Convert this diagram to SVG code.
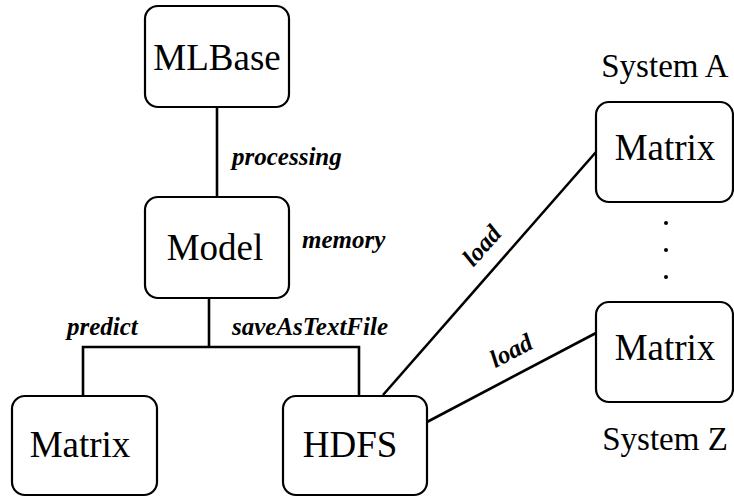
<svg xmlns="http://www.w3.org/2000/svg" width="734" height="497" viewBox="0 0 734 497">
<style>
.box{fill:#fff;stroke:#000;stroke-width:2.2}
.nt{font-family:"Liberation Serif","Times New Roman",serif;font-size:37px;text-anchor:middle;fill:#000}
.sys{font-family:"Liberation Serif","Times New Roman",serif;font-size:33px;text-anchor:middle;fill:#000}
.lbl{font-family:"Liberation Serif","Times New Roman",serif;font-size:25px;font-weight:bold;font-style:italic;fill:#000}
.ln{fill:none;stroke:#000;stroke-width:2.6}
</style>
<rect width="734" height="497" fill="#fff"/>
<g id="connectors">
<line class="ln" x1="217" y1="107" x2="217" y2="197"/>
<polyline class="ln" points="209,298 209,347"/>
<polyline class="ln" points="83,396 83,347 359,347 359,396"/>
<line class="ln" x1="383" y1="395" x2="596" y2="152"/>
<line class="ln" x1="427" y1="422" x2="596" y2="333"/>
<text class="lbl" x="232" y="165">processing</text>
<text class="lbl" x="302" y="248">memory</text>
<text class="lbl" x="67" y="335">predict</text>
<text class="lbl" x="232" y="335">saveAsTextFile</text>
<text class="lbl" text-anchor="middle" transform="translate(488,251) rotate(-48.6)">load</text>
<text class="lbl" text-anchor="middle" transform="translate(515,358) rotate(-27.8)">load</text>
</g>
<g id="mlbase"><rect class="box" x="145" y="6" width="144" height="101" rx="13"/><text class="nt" x="217" y="70">MLBase</text></g>
<g id="model"><rect class="box" x="145" y="197" width="144" height="101" rx="13"/><text class="nt" x="215" y="260">Model</text></g>
<g id="matrix-left"><rect class="box" x="12" y="396" width="145" height="99" rx="13"/><text class="nt" x="80" y="457">Matrix</text></g>
<g id="hdfs"><rect class="box" x="283" y="396" width="144" height="99" rx="13"/><text class="nt" x="350" y="457">HDFS</text></g>
<g id="matrix-a"><text class="sys" x="665" y="77">System A</text><rect class="box" x="596" y="102" width="137" height="100" rx="13"/><text class="nt" x="665" y="160">Matrix</text></g>
<g id="dots"><circle cx="666" cy="223" r="2"/><circle cx="666" cy="250" r="2"/><circle cx="666" cy="277" r="2"/></g>
<g id="matrix-z"><rect class="box" x="596" y="302" width="137" height="100" rx="13"/><text class="nt" x="665" y="360">Matrix</text><text class="sys" x="665" y="450">System Z</text></g>
</svg>
